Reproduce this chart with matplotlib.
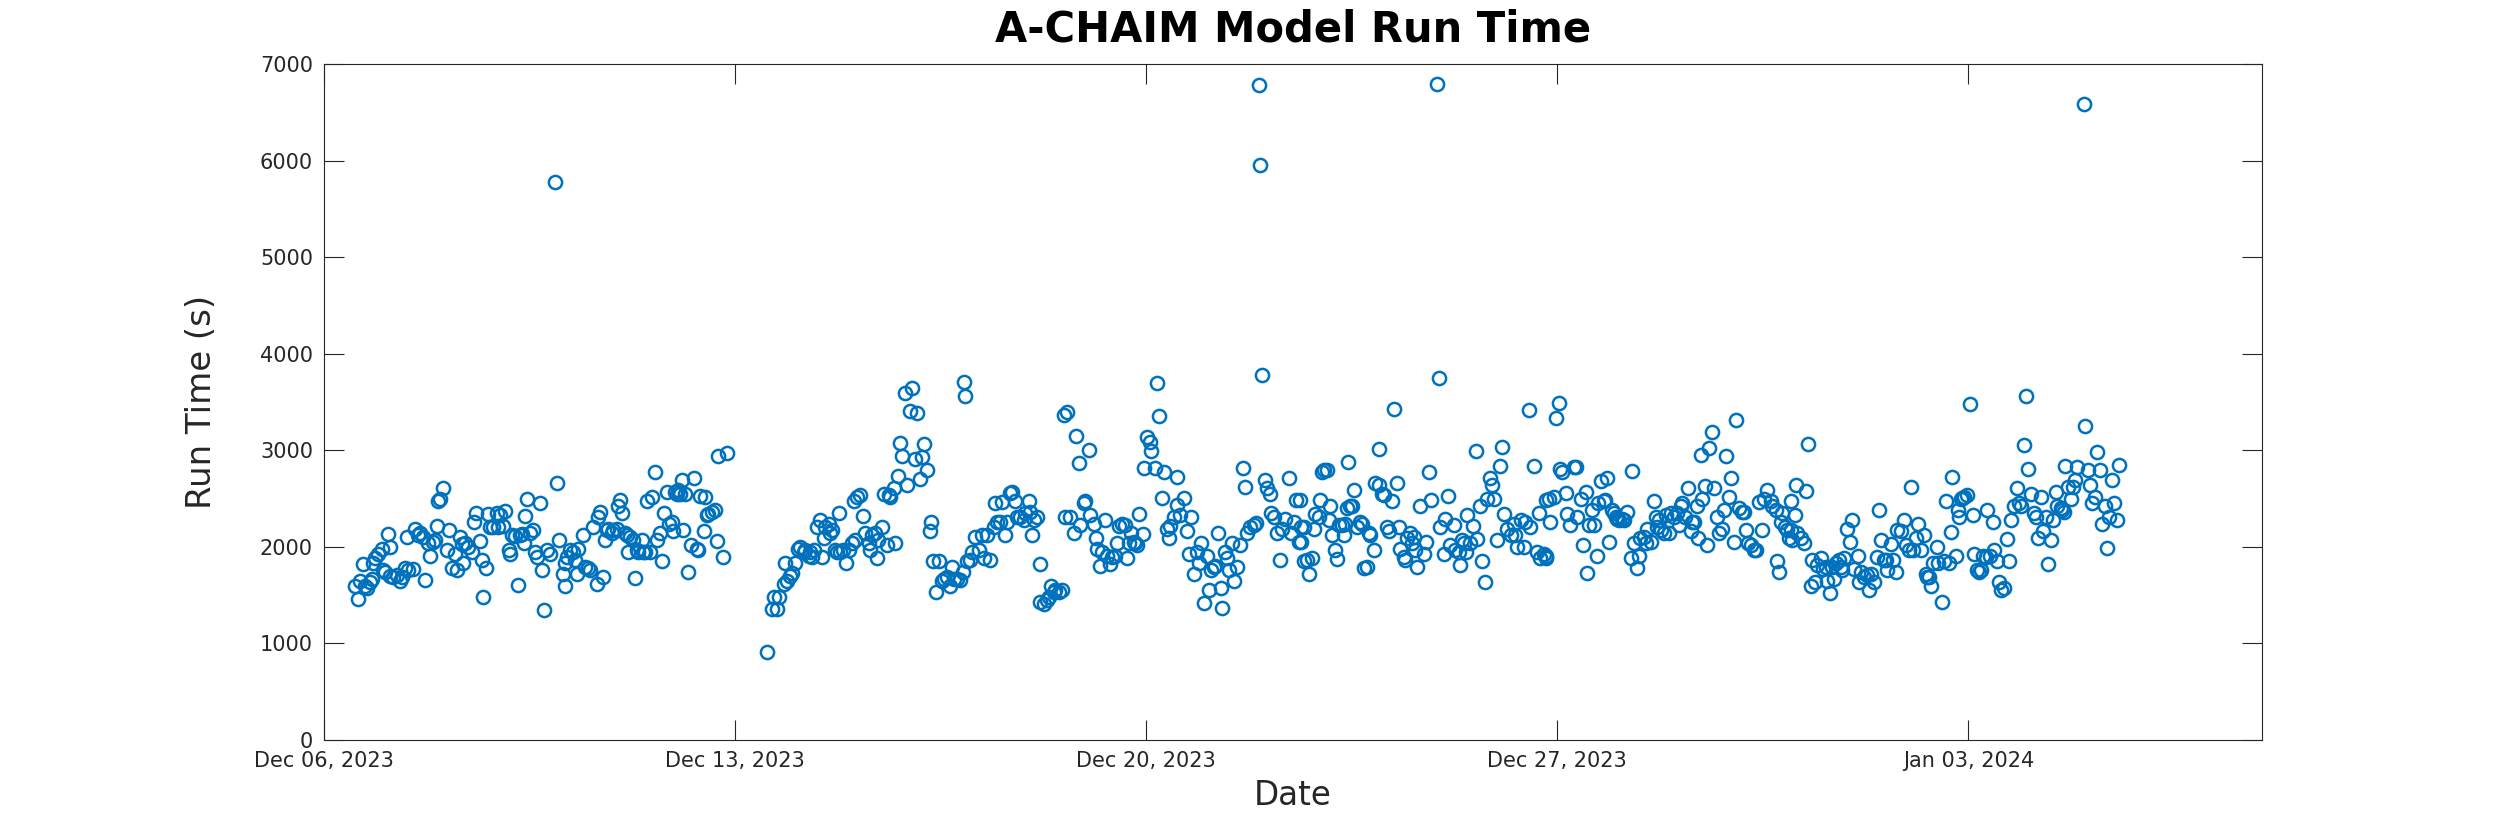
import numpy as np
import pandas as pd
import matplotlib
matplotlib.use('Agg')
import matplotlib.pyplot as plt
import matplotlib.dates as mdates

# run times: hours after 2023-12-06 00:00, seconds
# first block, before the outage on Dec 12/13
hours_a = [12.7, 14.0, 14.7, 16.1, 16.8, 17.4, 18.8, 19.5, 20.2, 20.9,
           22.2, 23.6, 24.3, 24.9, 26.3, 27.0, 27.1, 28.3, 29.7, 31.1,
           31.8, 33.1, 34.1, 34.5, 36.5, 37.2, 38.6, 39.3, 40.6, 41.3,
           42.7, 43.3, 44.7, 45.4, 46.1, 46.7, 47.4, 48.8, 50.2, 51.2,
           52.2, 53.6, 54.2, 55.6, 56.3, 57.0, 57.6, 59.0, 60.4, 61.1,
           62.0, 63.8, 64.5, 65.1, 66.1, 67.2, 67.9, 69.2, 70.6, 71.3,
           72.0, 73.1, 74.0, 75.4, 76.1, 76.7, 78.1, 79.2, 80.1, 80.8,
           81.8, 82.2, 83.1, 84.2, 85.6, 86.3, 87.0, 88.3, 89.0, 90.0,
           91.0, 92.4, 95.1, 96.2, 97.6,
           98.5, 98.6, 99.2, 100.5, 101.9, 102.6, 103.3, 104.0, 106.0, 106.7,
           108.0, 108.7, 110.1, 111.4, 112.1, 112.8, 114.2, 114.9, 115.5, 116.2,
           117.6, 118.3, 119.6, 120.3, 121.0, 121.7, 123.0, 123.7, 124.4, 125.1,
           126.4, 127.1, 127.8, 128.5, 129.8, 130.5, 131.2, 131.9, 133.3, 133.9,
           135.3, 136.0, 137.3, 138.0, 139.1, 140.1, 140.8, 142.1, 142.8, 143.5,
           144.2, 144.8, 145.5, 146.2, 146.9, 147.6, 148.9, 150.0, 151.4, 152.3,
           153.0, 153.7, 155.1, 155.7, 156.4, 157.1, 158.5, 159.6, 160.5, 161.2,
           163.2, 164.6]
secs_a = [1590, 1460, 1650, 1820, 1600, 1570, 1640, 1670, 1830, 1880,
          1930, 1980, 1760, 1740, 2130, 2000, 1700, 1690, 1710, 1650,
          1690, 1780, 2100, 1760, 1770, 2180, 2120, 2140, 2100, 1660,
          2040, 1910, 2050, 2070, 2220, 2470, 2500, 2610, 1970, 2170,
          1780, 1930, 1760, 2100, 2030, 1830, 2040, 2000, 1950, 2260,
          2350, 2060, 1860, 1480, 1780, 2340, 2210, 2210, 2350, 2210,
          2330, 2220, 2370, 1970, 1930, 2120, 2110, 1610, 2120, 2130,
          2040, 2320, 2500, 2140, 2170, 1950, 1900, 2450, 1760, 1350,
          1970, 1930, 2660, 2070, 1720,
          1590, 1830, 1900, 1970, 1950, 1860, 1720, 1980, 2120, 1790,
          1780, 1760, 2210, 1620, 2310, 2360, 1690, 2070, 2170, 2190,
          2140, 2170, 2190, 2420, 2490, 2350, 2140, 2120, 1950, 2100,
          2070, 1680, 1970, 1950, 2070, 1950, 1950, 2470, 1950, 2520,
          2780, 2070, 2140, 1850, 2350, 2570, 2240, 2260, 2160, 2570,
          2550, 2590, 2550, 2690, 2170, 2550, 1740, 2020, 2710, 1980,
          1970, 2530, 2160, 2520, 2330, 2340, 2360, 2380, 2060, 2940,
          1900, 2970]

# Dec 13 - Dec 18
hours_b = [181.2, 183.0, 183.7, 185.0, 185.9, 187.8, 188.5, 189.1, 190.5, 191.2,
           192.5, 193.9, 194.6, 196.0, 196.6, 198.0,
           198.7, 199.4, 200.1, 201.4, 202.8, 203.5, 204.2, 204.8, 206.2, 206.9,
           207.6, 208.9, 209.6, 210.3, 211.0, 212.3, 213.4, 214.4, 215.7, 216.4,
           217.1, 217.8, 219.1, 220.2, 221.2, 222.6, 223.2, 223.9, 225.3, 226.0,
           226.6, 228.0, 228.7, 230.0, 230.7, 231.4, 232.8, 233.5, 234.4, 235.2,
           236.2, 237.5, 238.2, 239.3, 240.3, 241.6, 242.3, 243.4, 244.4, 245.3,
           246.4, 247.5, 248.0, 248.9, 250.2, 251.2, 252.5, 253.2, 254.6, 255.7,
           256.6, 257.3, 258.7, 260.0, 261.1, 261.4, 262.1, 262.8, 264.1, 264.8,
           266.2, 267.5, 268.9, 269.6, 270.9, 272.3, 273.7, 274.3, 275.0, 276.4,
           277.1, 278.4, 279.1, 280.5, 281.2, 282.5, 283.2, 284.6, 285.9, 286.6,
           288.0, 288.7, 289.3, 290.0, 291.4, 292.5, 292.8, 294.1, 295.5, 296.2,
           297.1, 298.2]
secs_b = [910, 1360, 1480, 1360, 1480, 1620, 1830, 1650, 1700, 1730,
          1830, 1980, 2000, 1950, 1970, 1910,
          1950, 1900, 1970, 2210, 2280, 1900, 2090, 2210, 2240, 2140,
          2170, 1970, 1950, 2350, 1950, 1970, 1830, 1970, 2040, 2470,
          2070, 2520, 2540, 2320, 2140, 2040, 1970, 2120, 2140, 1880,
          2070, 2210, 2550, 2020, 2540, 2520, 2610, 2040, 2730, 3080,
          2940, 3590, 2640, 3410, 3650, 2910, 3390, 2700, 2930, 3070,
          2800, 2160, 2260, 1850, 1530, 1850, 1650, 1670, 1690, 1590,
          1790, 1670, 1670, 1660, 1740, 3710, 3560, 1850, 1860, 1950,
          2100, 1970, 2120, 1880, 2120, 1860, 2210, 2450, 2260, 2260,
          2460, 2120, 2260, 2560, 2570, 2470, 2310, 2310, 2280, 2350,
          2470, 2360, 2120, 2280, 2310, 1820, 1430, 1410, 1450, 1480,
          1590, 1530]

# Dec 18 - Dec 26
hours_c = [298.9, 300.3, 301.6, 302.3, 303.0, 303.7, 305.0, 306.4, 307.4, 308.4,
           309.1, 310.5, 311.2, 312.5, 313.2, 314.6, 315.3, 315.9, 317.3, 318.0,
           319.3, 320.0, 321.4, 322.1, 323.4, 324.1, 324.8, 326.2, 327.5, 328.2,
           328.9, 329.6, 330.9, 331.6, 332.3, 333.2, 334.6, 335.0, 336.4, 337.7,
           337.8, 339.8, 340.5, 341.4, 342.5, 343.2, 344.6, 345.2, 345.9, 347.3,
           348.6, 348.7, 350.0, 351.4, 352.7, 353.4, 354.5, 355.5, 356.8, 357.5,
           358.6, 359.6, 360.9, 361.6, 362.3, 363.6, 364.3, 365.4, 366.4, 367.0,
           368.4, 369.1, 369.8, 371.1, 371.8, 373.2, 374.5, 375.5, 376.3, 377.3,
           378.6, 380.0, 380.7, 383.4, 384.5, 385.4, 386.8, 386.9,
           388.2, 389.5, 390.5, 391.6, 392.9, 394.3, 395.0, 396.4, 397.3, 398.4,
           399.0, 399.1, 399.2, 400.4, 400.5, 401.7, 402.4, 403.8, 404.5, 405.1,
           406.5, 407.2, 407.9, 408.5, 409.9, 410.6, 411.3, 411.9, 413.3, 414.0,
           414.7, 416.0, 416.7, 417.4, 418.1, 418.5, 419.4, 420.1, 420.8, 422.2,
           423.5, 424.2, 424.9, 426.3, 426.9, 427.6, 429.0, 429.7, 431.0, 431.3,
           432.4, 433.1, 434.4, 435.1, 436.5, 437.4, 438.3, 439.2, 439.9, 441.3,
           441.9, 442.6, 444.0, 444.7, 445.3, 446.0, 446.7, 448.1, 449.4, 450.5,
           451.5, 452.4, 455.6, 456.2, 457.6, 458.3, 459.2, 460.3, 461.7,
           462.4, 463.7, 464.4, 465.1, 465.8, 466.9, 467.2, 468.5, 469.6, 470.6,
           471.2, 472.6, 473.3, 474.6, 475.3, 476.7, 477.4, 478.1, 479.4, 480.5,
           481.5, 482.4, 483.5, 484.9, 486.2, 486.9, 487.6, 489.0, 490.3, 491.0,
           492.4, 493.0, 494.4, 495.8, 496.5, 497.1, 498.5]
secs_c = [1550, 1530, 1550, 3370, 2310, 3400, 2310, 2140, 3150, 2870,
          2230, 2450, 2470, 3000, 2330, 2240, 2090, 1980, 1800, 1950,
          2280, 1910, 1820, 1900, 1910, 2040, 2220, 2240, 2230, 1890,
          2040, 2140, 2050, 2040, 2020, 2340, 2130, 2820, 3140, 3090,
          2990, 2820, 3700, 3350, 2510, 2780, 2180, 2090, 2220, 2310,
          2720, 2430, 2330, 2510, 2160, 1930, 2310, 1720, 1950, 1830,
          2040, 1420, 1910, 1550, 1760, 1790, 1800, 2140, 1570, 1370,
          1950, 1880, 1760, 2040, 1650, 1790, 2020, 2820, 2620, 2140,
          2210, 2230, 2250, 3780, 2690, 2610, 2550, 2350,
          2310, 2140, 1860, 2190, 2290, 2710, 2140, 2260, 2490, 2050,
          2490, 2210, 2050, 2210, 1850, 1860, 1720, 1880, 2190, 2340,
          2310, 2490, 2780, 2800, 2800, 2280, 2420, 2120, 1970, 1870,
          2230, 2230, 2120, 2240, 2400, 2880, 2420, 2420, 2590, 2210,
          2260, 2240, 1780, 1790, 2140, 2120, 1970, 2660, 2640, 3010,
          2550, 2540, 2210, 2160, 2470, 3430, 2660, 2210, 1980, 1900,
          1860, 2090, 2140, 2040, 2100, 1970, 1790, 2420, 1930, 2050,
          2780, 2490, 3750, 2210, 1930, 2290, 2530, 2020, 2230,
          1970, 1950, 1810, 2070, 2040, 1950, 2330, 2040, 2220, 2990,
          2080, 2420, 1850, 1640, 2500, 2710, 2640, 2500, 2070, 2840,
          3030, 2340, 2180, 2120, 2240, 2120, 2000, 2280, 2000, 2260,
          3420, 2210, 2840, 1950, 2350, 1880, 1930]

# Dec 26 - Jan 05
hours_d = [499.2, 499.3, 499.4, 500.6, 501.2, 502.6, 503.6, 504.7, 505.3, 506.0,
           507.4, 508.1, 509.4, 510.8, 511.5, 512.1, 513.5, 514.5, 515.6, 516.2,
           516.9, 518.3, 519.0, 520.3, 520.7, 521.7, 523.1, 523.7, 524.4, 525.1,
           526.5, 527.1, 527.8, 528.5, 529.2, 530.5, 531.2, 532.6, 534.0, 534.4,
           535.3, 536.7, 537.4, 538.0, 539.4, 540.1, 540.8, 542.1, 543.5, 544.2,
           544.9, 545.5, 546.2, 547.6, 548.3, 549.6, 550.3, 551.7, 553.0, 553.7,
           554.4, 555.1, 556.4, 557.5, 558.5, 559.2, 559.9, 561.2, 561.6, 562.6,
           563.3, 564.3, 565.3, 566.0, 567.4, 568.0, 569.4, 570.1, 571.4, 572.1,
           572.8, 574.2, 574.8, 576.2, 576.9, 578.3, 579.6, 580.3, 581.0, 582.1,
           583.0, 584.4, 585.1, 586.4, 587.5, 588.5, 589.8, 591.2, 591.9, 593.2,
           593.9, 594.6, 595.3, 596.0, 597.1, 598.0, 598.7,
           599.4, 599.5, 600.1, 601.0, 601.4, 602.1, 603.5, 604.9, 605.5, 606.5,
           607.6, 608.3, 609.2, 610.3, 611.7, 612.4, 613.7, 614.4, 615.5, 616.4,
           617.1, 617.8, 619.2, 619.8, 620.5, 621.2, 622.6, 623.7, 624.6, 625.3,
           626.7, 627.3, 628.3, 629.4, 630.5, 631.4, 632.1, 633.5, 634.6, 635.5,
           636.5, 637.6, 638.2, 638.9, 640.3, 641.0, 642.3, 643.0, 644.4, 645.7,
           646.4, 647.8, 648.5, 649.2, 650.5, 651.6, 652.6, 653.9, 654.6, 655.3,
           656.0, 656.6, 657.7, 659.1, 659.4, 661.4, 662.1, 662.8, 664.1, 664.8,
           665.5, 666.9, 667.6, 668.2, 668.9, 669.6, 670.3, 671.6, 672.7, 673.7,
           674.4, 675.7, 676.4, 677.1, 677.8, 679.1, 679.8, 680.9, 681.9, 682.5,
           683.9, 684.6, 685.3, 686.6, 687.7, 688.7, 689.4, 690.7, 691.8, 692.8,
           693.4, 694.8, 695.5, 696.4, 697.5,
           698.9, 699.5, 700.5, 701.6, 702.7, 703.6, 704.6, 705.7, 706.4, 707.7,
           708.4, 709.8, 710.4, 711.1, 711.5, 712.8, 713.9, 714.9, 715.6, 716.6,
           719.6, 720.7, 721.8, 722.7, 723.7, 724.5, 725.7, 726.5, 727.8,
           728.6, 729.5, 730.6, 731.6, 732.7, 733.6]
secs_d = [2490, 1910, 1880, 2500, 2260, 2520, 3330, 3490, 2810, 2780,
          2560, 2340, 2230, 2830, 2830, 2310, 2500, 2020, 2570, 1730,
          2230, 2380, 2230, 1910, 2450, 2680, 2470, 2490, 2710, 2050,
          2380, 2350, 2310, 2290, 2280, 2290, 2280, 2360, 1880, 2790,
          2040, 1780, 1910, 2090, 2100, 2040, 2180, 2050, 2470, 2310,
          2210, 2280, 2170, 2140, 2330, 2140, 2350, 2310, 2350, 2230,
          2420, 2450, 2310, 2610, 2160, 2260, 2260, 2420, 2090, 2950,
          2500, 2630, 2020, 3020, 3190, 2610, 2310, 2140, 2190, 2380,
          2940, 2520, 2710, 2050, 3310, 2400, 2360, 2360, 2170, 2040,
          2020, 1970, 1970, 2460, 2170, 2500, 2590, 2470, 2420, 2380,
          1850, 1740, 2260, 2350, 2210, 2170, 2090,
          2470, 2170, 2070, 2330, 2640, 2140, 2090, 2040, 2580, 3070,
          1590, 1860, 1640, 1810, 1880, 1770, 1790, 1650, 1520, 1790,
          1670, 1830, 1860, 1790, 1760, 1880, 2190, 2050, 2280, 1770,
          1910, 1640, 1740, 1690, 1710, 1550, 1720, 1640, 1900, 2380,
          2070, 1860, 1860, 1760, 2030, 1860, 1740, 2170, 2160, 2280,
          2020, 1970, 2620, 1970, 2090, 2240, 1970, 2120, 1720, 1690,
          1690, 1600, 1830, 2000, 1830, 1430, 1850, 2470, 1830, 2150,
          2720, 1910, 2380, 2310, 2500, 2510, 2520, 2540, 3480, 2330,
          1930, 1760, 1740, 1760, 1910, 1900, 2380, 1910, 2260, 1970,
          1850, 1640, 1550, 1570, 2080, 1850, 2280, 2420, 2610, 2450,
          2420, 3060, 3560, 2810, 2550,
          2350, 2310, 2090, 2520, 2160, 2310, 1820, 2070, 2280, 2570,
          2420, 2400, 2380, 2360, 2840, 2620, 2500, 2620, 2690, 2830,
          3250, 2800, 2640, 2450, 2520, 2980, 2800, 2240, 2420,
          1990, 2310, 2690, 2450, 2280, 2850]

# the few very slow runs
outlier_hours = [94.4, 382.0, 382.7, 454.9, 719.3]
outlier_secs = [5780, 6780, 5950, 6790, 6590]

hours = np.concatenate([hours_a, hours_b, hours_c, hours_d, outlier_hours])
secs = np.concatenate([secs_a, secs_b, secs_c, secs_d, outlier_secs])

t0 = pd.Timestamp('2023-12-06')
times = t0 + pd.to_timedelta(hours, unit='h')

dark = '#262626'
fig = plt.figure(figsize=(25, 8.33), dpi=100)
ax = fig.add_axes([0.1296, 0.1116, 0.7752, 0.8116])
ax.plot(times, secs, linestyle='none', marker='o', markersize=9.5,
        markerfacecolor='none', markeredgecolor='#0072BD', markeredgewidth=1.8)

ax.set_xlim(t0, t0 + pd.Timedelta(days=33))
ax.set_ylim(0, 7000)
ax.set_yticks(np.arange(0, 7001, 1000))
ax.set_xticks(pd.date_range('2023-12-06', periods=5, freq='7D'))
ax.xaxis.set_major_formatter(mdates.DateFormatter('%b %d, %Y'))

ax.tick_params(direction='in', length=14.4, width=0.8, top=True, right=True,
               labelsize=15, colors=dark, pad=8)
for sp in ax.spines.values():
    sp.set_color(dark)
    sp.set_linewidth(0.8)

ax.set_xlabel('Date', fontsize=23.5, color=dark, labelpad=6)
ax.set_ylabel('Run Time (s)', fontsize=24.5, color=dark, labelpad=30)
ax.set_title('A-CHAIM Model Run Time', fontsize=30, fontweight='bold', pad=16)

fig.savefig('out.png', dpi=100)
